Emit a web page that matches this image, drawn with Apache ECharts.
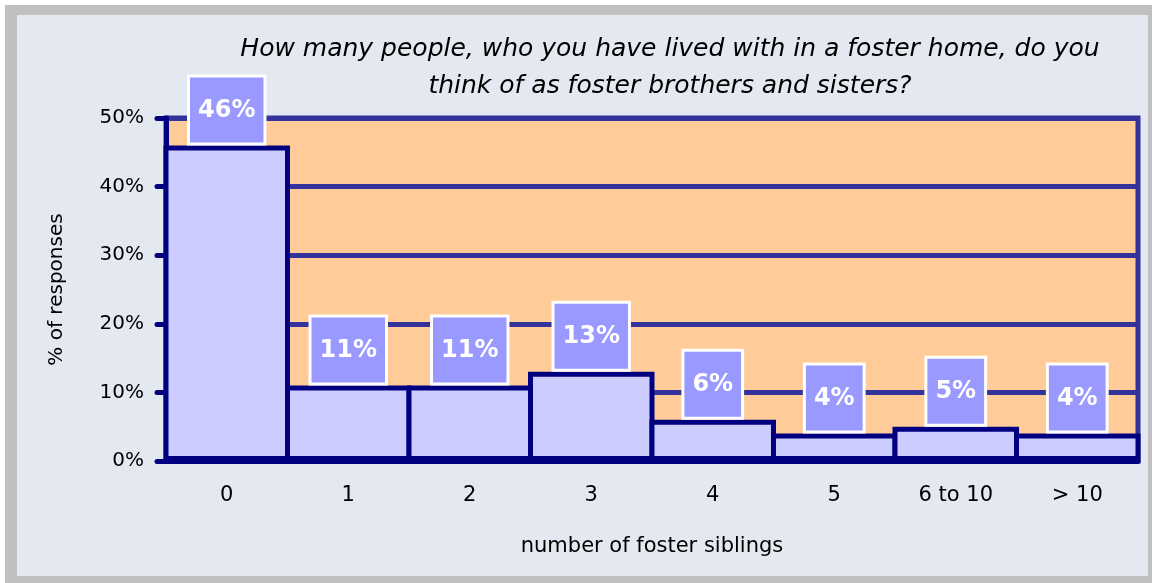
<!DOCTYPE html>
<html>
<head>
<meta charset="utf-8">
<script src="https://cdn.jsdelivr.net/npm/echarts@6/dist/echarts.min.js"></script>
<style>
  html, body { margin: 0; padding: 0; background: #ffffff; }
  #frame {
    position: absolute; left: 5px; top: 5px;
    width: 1131px; height: 561px;
    border-left: 12px solid #c0c0c0; border-top: 10px solid #c0c0c0;
    border-right: 4px solid #c0c0c0; border-bottom: 7px solid #c0c0c0;
    background: #e4e8f0;
  }
  #chart { position: absolute; left: 0; top: 0; width: 1152px; height: 583px; }
</style>
</head>
<body>
<div id="frame"></div>
<div id="chart"></div>
<script>
// categories and values
let categories = ['0', '1', '2', '3', '4', '5', '6 to 10', '> 10'];
let percents = [46, 11, 11, 13, 6, 4, 5, 4];
let yTicks = [0, 10, 20, 30, 40, 50];

let fontName = 'DejaVu Sans';
let gridLeft = 166, gridRight = 14, chartW = 1152;
let borderW = 5;
// bars touch each other; ECharts draws the border inside the bar, so widen by the border
let catW = (chartW - gridLeft - gridRight) / categories.length;

let option = {
    animation: false,
    backgroundColor: 'transparent',
    title: {
        text: 'How many people, who you have lived with in a foster home, do you\nthink of as foster brothers and sisters?',
        left: 665,
        top: 26,
        textAlign: 'center',
        textStyle: {
            fontFamily: fontName,
            fontStyle: 'italic',
            fontWeight: 'normal',
            fontSize: 25,
            lineHeight: 37,
            color: '#000000'
        }
    },
    grid: {
        left: gridLeft,
        right: gridRight,
        top: 118,
        bottom: 122,
        show: true,
        backgroundColor: '#ffcc99',
        borderColor: '#333399',
        borderWidth: 5
    },
    xAxis: {
        type: 'category',
        data: categories,
        name: 'number of foster siblings',
        nameLocation: 'middle',
        nameGap: 75,
        nameTextStyle: { fontFamily: fontName, fontSize: 21, color: '#000' },
        axisLine: { lineStyle: { color: '#000080', width: 5 } },
        axisTick: { length: 9, lineStyle: { color: '#000080', width: 5, cap: 'round' } },
        axisLabel: { margin: 24, fontFamily: fontName, fontSize: 21, color: '#000' }
    },
    yAxis: {
        type: 'value',
        min: yTicks[0],
        max: yTicks[yTicks.length - 1],
        interval: 10,
        name: '% of responses',
        nameLocation: 'middle',
        nameGap: 99,
        nameTextStyle: { fontFamily: fontName, fontSize: 20, color: '#000' },
        axisLine: { show: true, lineStyle: { color: '#000080', width: 5 } },
        axisTick: { show: true, length: 9, lineStyle: { color: '#000080', width: 5, cap: 'round' } },
        axisLabel: {
            margin: 22,
            fontFamily: fontName,
            fontSize: 20,
            color: '#000',
            formatter: '{value}%'
        },
        splitLine: { show: true, lineStyle: { color: '#333399', width: 5 } }
    },
    series: [
        {
            name: '% of responses',
            type: 'bar',
            data: percents,
            barWidth: catW + borderW,
            itemStyle: {
                color: '#ccccff',
                borderColor: '#000080',
                borderWidth: borderW
            },
            label: {
                show: true,
                position: 'top',
                distance: 3,
                formatter: '{c}%',
                fontFamily: fontName,
                fontWeight: 'bold',
                fontSize: 24,
                lineHeight: 30,
                color: '#ffffff',
                backgroundColor: '#9999ff',
                borderColor: '#ffffff',
                borderWidth: 3,
                padding: [18, 8, 17, 8]
            }
        }
    ]
};

let myChart = echarts.init(document.getElementById('chart'));
myChart.setOption(option);
</script>
</body>
</html>
